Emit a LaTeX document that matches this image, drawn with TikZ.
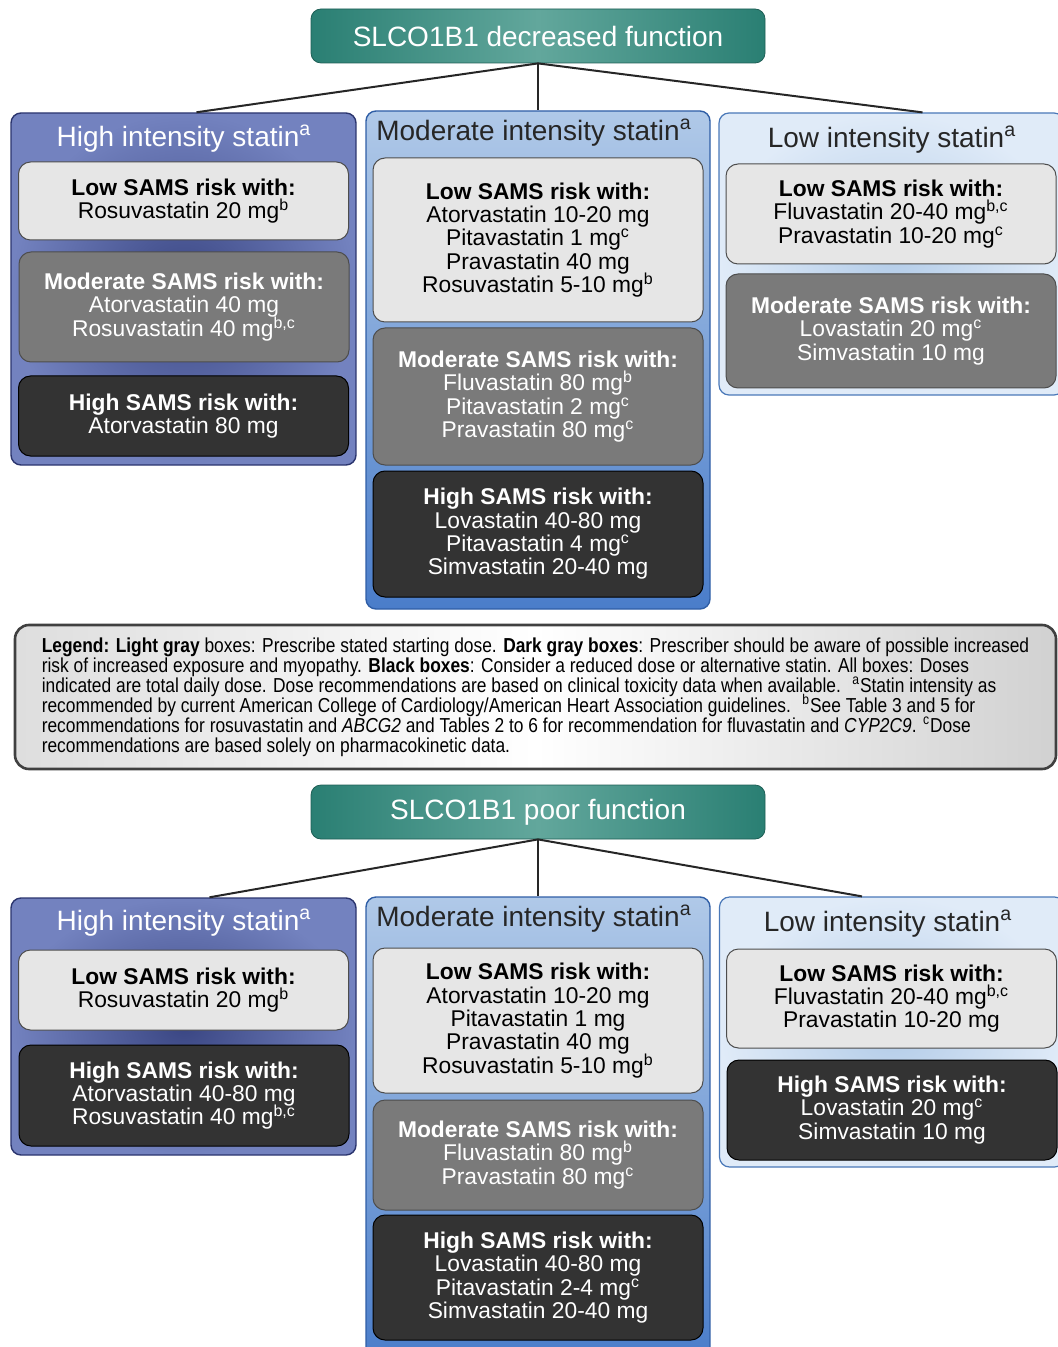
\documentclass[tikz,border=0pt]{standalone}
\usepackage{fontspec}
\setmainfont{Liberation Sans}
\newfontfamily\legendfont[FakeStretch=0.86]{Liberation Sans}
\usepackage{xcolor}
\definecolor{tealedge}{HTML}{2A7F73}
\definecolor{tealmid}{HTML}{62A79C}
\definecolor{tealline}{HTML}{1E5E55}
\definecolor{hiedge}{HTML}{7382BF}
\definecolor{hicenter}{HTML}{3A4683}
\definecolor{hiline}{HTML}{2B356E}
\definecolor{modtop}{HTML}{B0C9E8}
\definecolor{modbot}{HTML}{4A7DCA}
\definecolor{modline}{HTML}{2F5EA6}
\definecolor{loedge}{HTML}{E0EBF8}
\definecolor{locenter}{HTML}{B3CCE8}
\definecolor{loline}{HTML}{4A78B8}
\definecolor{lightfill}{HTML}{E6E6E6}
\definecolor{darkfill}{HTML}{7A7A7A}
\definecolor{blackfill}{HTML}{333333}
\definecolor{boxline}{HTML}{4D4D4D}
\newcommand{\fnm}[1]{\smash{\textsuperscript{#1}}}

\begin{document}
\begin{tikzpicture}[x=0.5pt, y=-0.5pt]
	\tikzstyle{header}=[draw=tealline, rounded corners=5pt, minimum width=227pt, minimum height=27pt, left color=tealedge, right color=tealedge, middle color=tealmid, text=white, font=\fontsize{14}{16}\selectfont]
	\tikzstyle{hicol}=[draw=hiline, line width=0.7pt, rounded corners=5pt, minimum width=172.5pt, inner color=hicenter, outer color=hiedge]
	\tikzstyle{modcol}=[draw=modline, line width=0.7pt, rounded corners=5pt, minimum width=172pt, top color=modtop, bottom color=modbot]
	\tikzstyle{locol}=[draw=loline, line width=0.6pt, rounded corners=5pt, minimum width=172.5pt, inner color=locenter, outer color=loedge]
	\tikzstyle{title}=[font=\fontsize{14}{16}\selectfont, inner sep=0pt]
	\tikzstyle{riskbox}=[draw=boxline, line width=0.5pt, rounded corners=6pt, minimum width=165pt, align=center, inner sep=0pt, font=\fontsize{11.4}{11.7}\selectfont]
	\tikzstyle{lowbox}=[riskbox, fill=lightfill, text=black]
	\tikzstyle{modbox}=[riskbox, fill=darkfill, text=white]
	\tikzstyle{highbox}=[riskbox, fill=blackfill, text=white, draw=black]
	\tikzstyle{link}=[line width=1pt, black!85]

	\useasboundingbox (0, 0) rectangle (1058, 1347);

	% decreased function
	\draw node[header] at (538, 36) (hdA) {SLCO1B1 decreased function};

	\draw node[hicol, minimum height=176pt] at (183.5, 289) (colAl) {};
	\draw node[modcol, minimum height=249pt] at (538, 360) (colAm) {};
	\draw node[locol, minimum height=141pt] at (891.5, 254) (colAr) {};

	\draw[link] (hdA.south) -- ([xshift=6.5pt]colAl.north);
	\draw[link] (hdA.south) -- (colAm.north);
	\draw[link] (hdA.south) -- ([xshift=15.5pt]colAr.north);

	\draw node[title, text=white] at (184, 139) (ttAl) {High intensity statin\fnm{a}};
	\draw node[title, text=black!85] at (534, 133) (ttAm) {Moderate intensity statin\fnm{a}};
	\draw node[title, text=black!85] at (892, 140) (ttAr) {Low intensity statin\fnm{a}};

	\draw node[lowbox, minimum height=39pt] at (183.5, 201) (bxAl1) {\textbf{Low SAMS risk with:}\\Rosuvastatin 20 mg\fnm{b}};
	\draw node[modbox, minimum height=55pt] at (184, 307) (bxAl2) {\textbf{Moderate SAMS risk with:}\\Atorvastatin 40 mg\\Rosuvastatin 40 mg\fnm{b,c}};
	\draw node[highbox, minimum height=40pt] at (183.5, 416) (bxAl3) {\textbf{High SAMS risk with:}\\Atorvastatin 80 mg};

	\draw node[lowbox, minimum height=82pt] at (538, 240) (bxAm1) {\textbf{Low SAMS risk with:}\\Atorvastatin 10-20 mg\\Pitavastatin 1 mg\fnm{c}\\Pravastatin 40 mg\\Rosuvastatin 5-10 mg\fnm{b}};
	\draw node[modbox, minimum height=68.5pt] at (538, 396.5) (bxAm2) {\textbf{Moderate SAMS risk with:}\\Fluvastatin 80 mg\fnm{b}\\Pitavastatin 2 mg\fnm{c}\\Pravastatin 80 mg\fnm{c}};
	\draw node[highbox, minimum height=63pt] at (538, 534) (bxAm3) {\textbf{High SAMS risk with:}\\Lovastatin 40-80 mg\\Pitavastatin 4 mg\fnm{c}\\Simvastatin 20-40 mg};

	\draw node[lowbox, minimum height=50pt] at (891, 214) (bxAr1) {\textbf{Low SAMS risk with:}\\Fluvastatin 20-40 mg\fnm{b,c}\\Pravastatin 10-20 mg\fnm{c}};
	\draw node[modbox, minimum height=57pt] at (891, 331) (bxAr2) {\textbf{Moderate SAMS risk with:}\\Lovastatin 20 mg\fnm{c}\\Simvastatin 10 mg};

	% legend
	\draw node[draw=black!75, line width=1.3pt, rounded corners=7pt, minimum width=520.5pt, minimum height=72pt, left color=black!13, right color=black!18, middle color=white, align=left, font=\legendfont\fontsize{10.1}{10}\selectfont] at (535.5, 697) (legend) {\textbf{Legend: Light gray} boxes: Prescribe stated starting dose. \textbf{Dark gray boxes}: Prescriber should be aware of possible increased\\
	risk of increased exposure and myopathy. \textbf{Black boxes}: Consider a reduced dose or alternative statin. All boxes: Doses\\
	indicated are total daily dose. Dose recommendations are based on clinical toxicity data when available. \ \fnm{a}Statin intensity as\\
	recommended by current American College of Cardiology/American Heart Association guidelines. \ \fnm{b}See Table 3 and 5 for\\
	recommendations for rosuvastatin and \textit{ABCG2} and Tables 2 to 6 for recommendation for fluvastatin and \textit{CYP2C9}. \fnm{c}Dose\\
	recommendations are based solely on pharmacokinetic data.};

	% poor function
	\draw node[header] at (538, 812) (hdB) {SLCO1B1 poor function};

	\draw node[hicol, minimum height=128.5pt] at (183.5, 1026.5) (colBl) {};
	\draw node[modcol, minimum height=231.5pt] at (538, 1128.5) (colBm) {};
	\draw node[locol, minimum height=135pt] at (892, 1032) (colBr) {};

	\draw[link] (hdB.south) -- ([xshift=13pt]colBl.north);
	\draw[link] (hdB.south) -- (colBm.north);
	\draw[link] (hdB.south) -- ([xshift=-15pt]colBr.north);

	\draw node[title, text=white] at (184, 923) (ttBl) {High intensity statin\fnm{a}};
	\draw node[title, text=black!85] at (534, 919) (ttBm) {Moderate intensity statin\fnm{a}};
	\draw node[title, text=black!85] at (888, 924) (ttBr) {Low intensity statin\fnm{a}};

	\draw node[lowbox, minimum height=40pt] at (183.5, 990) (bxBl1) {\textbf{Low SAMS risk with:}\\Rosuvastatin 20 mg\fnm{b}};
	\draw node[highbox, minimum height=50.5pt] at (184, 1095.5) (bxBl2) {\textbf{High SAMS risk with:}\\Atorvastatin 40-80 mg\\Rosuvastatin 40 mg\fnm{b,c}};

	\draw node[lowbox, minimum height=72.5pt] at (538, 1020.5) (bxBm1) {\textbf{Low SAMS risk with:}\\Atorvastatin 10-20 mg\\Pitavastatin 1 mg\\Pravastatin 40 mg\\Rosuvastatin 5-10 mg\fnm{b}};
	\draw node[modbox, minimum height=55pt] at (538, 1155) (bxBm2) {\textbf{Moderate SAMS risk with:}\\Fluvastatin 80 mg\fnm{b}\\Pravastatin 80 mg\fnm{c}};
	\draw node[highbox, minimum height=62.5pt] at (538, 1277.5) (bxBm3) {\textbf{High SAMS risk with:}\\Lovastatin 40-80 mg\\Pitavastatin 2-4 mg\fnm{c}\\Simvastatin 20-40 mg};

	\draw node[lowbox, minimum height=49.5pt] at (891.5, 998.5) (bxBr1) {\textbf{Low SAMS risk with:}\\Fluvastatin 20-40 mg\fnm{b,c}\\Pravastatin 10-20 mg};
	\draw node[highbox, minimum height=50pt] at (892, 1110) (bxBr2) {\textbf{High SAMS risk with:}\\Lovastatin 20 mg\fnm{c}\\Simvastatin 10 mg};
\end{tikzpicture}
\end{document}
